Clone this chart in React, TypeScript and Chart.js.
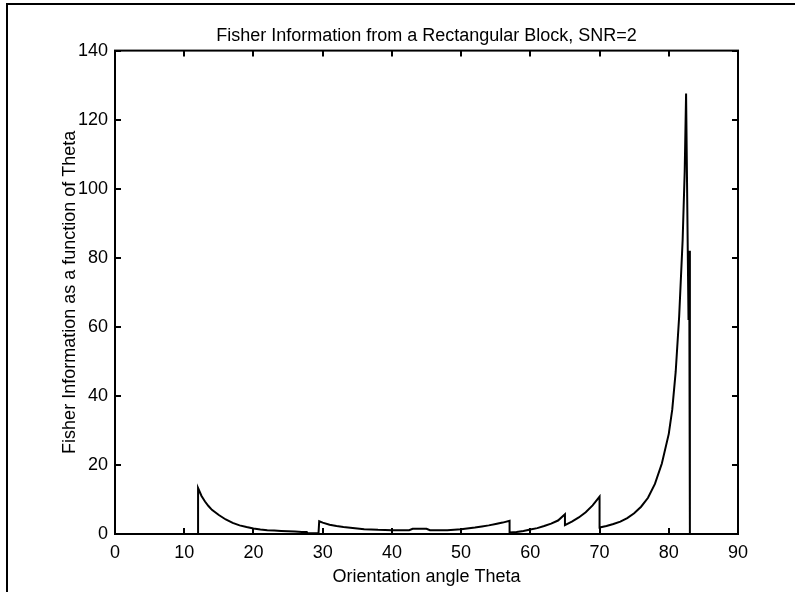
import React, { useEffect, useRef } from "react";
import { Chart, registerables } from "chart.js";

Chart.register(...registerables);

const chartTitle = "Fisher Information from a Rectangular Block, SNR=2";
const xAxisTitle = "Orientation angle Theta";
const yAxisTitle = "Fisher Information as a function of Theta";

const thetaValues = [
  0, 12, 12, 12.5, 13, 13.5, 14, 15, 16, 17, 18, 19, 20, 21, 22, 23, 24, 25, 26, 27,
  27.7, 27.8, 29.4, 29.5, 30, 31, 32, 33, 34, 35, 36, 37, 38, 40, 42.5, 43, 45, 45.5,
  48, 50, 52, 53, 54, 55, 56, 57, 57, 58, 59, 60, 61, 62, 63, 64, 65, 65, 66, 67, 68,
  69, 70, 70, 71, 72, 73, 74, 75, 76, 77, 78, 79, 80, 80.5, 81, 81.5, 82, 82.3, 82.5,
  82.85, 82.95, 83.05, 90,
];
const fisherValues = [
  0, 0, 13.3, 11.0, 9.4, 8.1, 7.0, 5.5, 4.2, 3.2, 2.5, 2.0, 1.6, 1.3, 1.1, 1.0, 0.9, 0.8, 0.7, 0.6,
  0.6, 0.2, 0.2, 3.7, 3.3, 2.7, 2.3, 2.0, 1.8, 1.6, 1.4, 1.3, 1.2, 1.1, 1.1, 1.5, 1.5, 1.1,
  1.1, 1.4, 1.9, 2.2, 2.5, 2.9, 3.3, 3.8, 0.4, 0.6, 0.9, 1.3, 1.7, 2.3, 3.0, 3.9, 5.7, 2.6, 3.6, 4.8, 6.3,
  8.3, 10.8, 1.9, 2.3, 2.9, 3.6, 4.6, 6.0, 7.9, 10.5, 14.5, 20.4, 29, 36, 47, 63, 85, 105, 127.6,
  62, 82, 0, 0,
];

const xMin = 0;
const xMax = 90;
const xStep = 10;
const yMin = 0;
const yMax = 140;
const yStep = 20;

const FONT = "'Liberation Sans', Arial, Helvetica, sans-serif";

const boxTicksPlugin = {
  id: "boxTicks",
  afterDatasetsDraw(chart: any) {
    const { ctx, chartArea, scales } = chart;
    const { left, right, top, bottom } = chartArea;
    const len = 6;
    ctx.save();
    ctx.strokeStyle = "#000";
    ctx.lineWidth = 2;
    ctx.beginPath();
    for (const t of scales.x.ticks) {
      const px = Math.round(scales.x.getPixelForValue(t.value));
      ctx.moveTo(px, bottom);
      ctx.lineTo(px, bottom - len);
      ctx.moveTo(px, top);
      ctx.lineTo(px, top + len);
    }
    for (const t of scales.y.ticks) {
      const py = Math.round(scales.y.getPixelForValue(t.value));
      ctx.moveTo(left, py);
      ctx.lineTo(left + len, py);
      ctx.moveTo(right, py);
      ctx.lineTo(right - len, py);
    }
    ctx.stroke();
    ctx.strokeRect(left, top, right - left, bottom - top);
    ctx.restore();
  },
};

export default function App() {
  const canvasRef = useRef<HTMLCanvasElement | null>(null);

  useEffect(() => {
    const canvas = canvasRef.current;
    if (!canvas) return;
    const points = thetaValues.map((x, i) => ({ x, y: fisherValues[i] }));
    const chart = new Chart(canvas, {
      type: "line",
      data: {
        datasets: [
          {
            data: points,
            borderColor: "#000",
            borderWidth: 2,
            pointRadius: 0,
            tension: 0,
            fill: false,
          },
        ],
      },
      options: {
        animation: false,
        responsive: false,
        maintainAspectRatio: false,
        devicePixelRatio: 1,
        layout: { padding: { left: 0, right: 57, top: 0, bottom: 0 } },
        plugins: {
          legend: { display: false },
          tooltip: { enabled: false },
          title: {
            display: true,
            text: chartTitle,
            fullSize: false,
            color: "#000",
            font: { family: FONT, size: 18, weight: "normal" },
            padding: { top: 25, bottom: 4 },
          },
        },
        scales: {
          x: {
            type: "linear",
            min: xMin,
            max: xMax,
            grid: { display: false, drawTicks: false },
            border: { display: false },
            ticks: {
              stepSize: xStep,
              padding: 8,
              color: "#000",
              font: { family: FONT, size: 18 },
              maxRotation: 0,
            },
            title: {
              display: true,
              text: xAxisTitle,
              color: "#000",
              font: { family: FONT, size: 18 },
              padding: { top: 0, bottom: 4 },
            },
            afterFit: (scale: any) => {
              scale.height = 58;
            },
          },
          y: {
            type: "linear",
            min: yMin,
            max: yMax,
            grid: { display: false, drawTicks: false },
            border: { display: false },
            ticks: {
              stepSize: yStep,
              padding: 7,
              color: "#000",
              font: { family: FONT, size: 18 },
            },
            title: {
              display: true,
              text: yAxisTitle,
              color: "#000",
              font: { family: FONT, size: 18 },
              padding: { top: 59, bottom: 0 },
            },
            afterFit: (scale: any) => {
              scale.width = 115;
            },
          },
        },
      },
      plugins: [boxTicksPlugin],
    });
    return () => chart.destroy();
  }, []);

  return (
    <div style={{ position: "fixed", left: 0, top: 0, width: 795, height: 592, background: "#fff" }}>
      <div
        style={{
          position: "absolute",
          left: 6,
          top: 3,
          right: 0,
          bottom: 0,
          borderLeft: "2px solid #000",
          borderTop: "2px solid #000",
        }}
      />
      <canvas
        ref={canvasRef}
        width={795}
        height={592}
        style={{ position: "absolute", left: 0, top: 0, width: 795, height: 592 }}
      />
    </div>
  );
}
